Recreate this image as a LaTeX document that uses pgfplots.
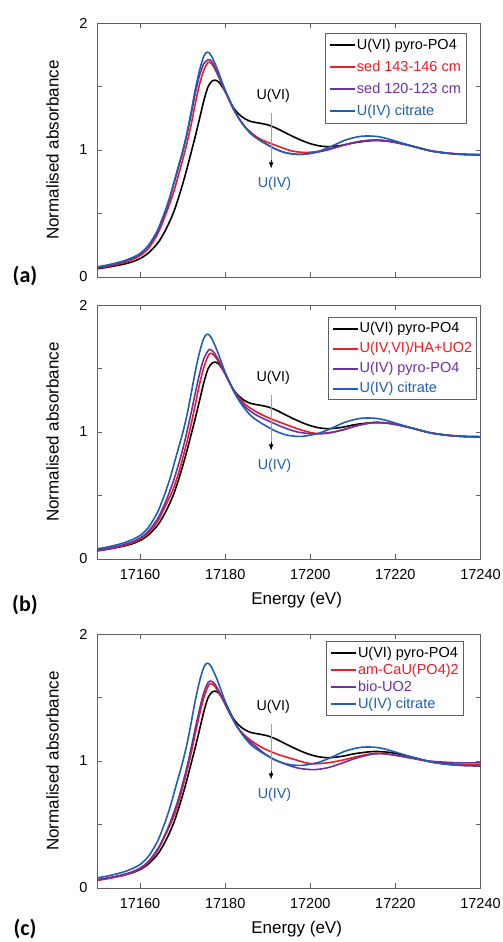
\documentclass[border=0pt]{standalone}
\usepackage{fontspec}
\setmainfont{Liberation Sans}
\newfontfamily\carlito{Carlito}
\usepackage{pgfplots}
\pgfplotsset{compat=1.18}
\usepackage{pgfplotstable}
\usetikzlibrary{arrows.meta}

\definecolor{cred}{RGB}{237,28,36}
\definecolor{cpurple}{RGB}{112,48,160}
\definecolor{cblue}{RGB}{31,94,180}
\definecolor{axgray}{RGB}{95,95,95}

% U(VI) pyro-PO4 (all panels)
\pgfplotstableread{
E A
17150 0.065
17152 0.075
17154 0.087
17156 0.100
17158 0.118
17160 0.145
17162 0.19
17164 0.26
17165 0.31
17166 0.37
17167 0.44
17168 0.52
17169 0.62
17170 0.73
17171 0.85
17172 0.98
17173 1.11
17174 1.25
17175 1.39
17176 1.50
17177 1.545
17177.6 1.55
17178.5 1.535
17180 1.46
17182 1.33
17184 1.26
17186 1.225
17188 1.212
17190 1.198
17192 1.172
17194 1.138
17196 1.105
17198 1.075
17200 1.05
17202 1.033
17204 1.026
17206 1.03
17208 1.04
17210 1.055
17212 1.065
17215 1.075
17218 1.07
17220 1.06
17224 1.03
17228 0.995
17232 0.975
17236 0.965
17240 0.962
}\blackdata

% U(IV) citrate (all panels)
\pgfplotstableread{
E A
17150 0.080
17152 0.092
17154 0.107
17156 0.125
17158 0.150
17160 0.185
17162 0.25
17164 0.36
17165 0.44
17166 0.53
17167 0.63
17168 0.75
17169 0.87
17170 0.99
17171 1.13
17172 1.30
17173 1.48
17174 1.63
17175 1.74
17175.8 1.77
17176.6 1.75
17178 1.65
17180 1.47
17182 1.32
17184 1.21
17186 1.13
17188 1.08
17190 1.04
17192 1.005
17194 0.98
17196 0.968
17198 0.965
17200 0.975
17202 0.99
17204 1.015
17206 1.045
17208 1.075
17210 1.095
17212 1.108
17214 1.11
17216 1.105
17218 1.09
17220 1.07
17224 1.03
17228 0.995
17232 0.975
17236 0.965
17240 0.962
}\bluedata

% (a) sed 143-146 cm
\pgfplotstableread{
E A
17150 0.070
17152 0.081
17154 0.095
17156 0.112
17158 0.135
17160 0.168
17162 0.225
17164 0.33
17165 0.405
17166 0.49
17167 0.58
17168 0.68
17169 0.80
17170 0.92
17171 1.05
17172 1.20
17173 1.37
17174 1.52
17175 1.63
17176 1.69
17176.8 1.68
17178 1.61
17180 1.46
17182 1.32
17184 1.21
17186 1.14
17188 1.09
17190 1.06
17192 1.035
17194 1.01
17196 0.99
17198 0.982
17200 0.982
17202 0.99
17204 1.005
17206 1.02
17208 1.04
17210 1.055
17212 1.068
17214 1.075
17216 1.078
17218 1.07
17220 1.06
17224 1.03
17228 0.995
17232 0.975
17236 0.965
17240 0.962
}\redA

% (a) sed 120-123 cm
\pgfplotstableread{
E A
17150 0.075
17152 0.087
17154 0.102
17156 0.120
17158 0.145
17160 0.180
17162 0.245
17164 0.35
17165 0.43
17166 0.52
17167 0.62
17168 0.74
17169 0.86
17170 0.98
17171 1.12
17172 1.28
17173 1.45
17174 1.59
17175 1.68
17176 1.71
17176.8 1.70
17178 1.62
17180 1.47
17182 1.32
17184 1.21
17186 1.13
17188 1.08
17190 1.04
17192 1.005
17194 0.98
17196 0.968
17198 0.965
17200 0.972
17202 0.985
17204 1.0
17206 1.02
17208 1.04
17210 1.057
17212 1.07
17214 1.077
17216 1.078
17218 1.072
17220 1.06
17224 1.03
17228 0.997
17232 0.977
17236 0.967
17240 0.963
}\purpleA

% (b) U(IV,VI)/HA+UO2
\pgfplotstableread{
E A
17150 0.065
17152 0.076
17154 0.089
17156 0.104
17158 0.125
17160 0.155
17162 0.205
17164 0.29
17165 0.35
17166 0.42
17167 0.49
17168 0.57
17169 0.67
17170 0.79
17171 0.92
17172 1.06
17173 1.22
17174 1.38
17175 1.51
17176 1.60
17176.6 1.62
17177.5 1.60
17179 1.52
17181 1.39
17183 1.28
17185 1.21
17187 1.165
17189 1.13
17191 1.10
17193 1.075
17195 1.05
17197 1.025
17199 1.005
17201 0.99
17203 0.99
17205 0.998
17208 1.02
17211 1.05
17214 1.07
17216 1.075
17218 1.07
17220 1.06
17224 1.03
17228 0.995
17232 0.975
17236 0.965
17240 0.962
}\redB

% (b) U(IV) pyro-PO4
\pgfplotstableread{
E A
17150 0.070
17152 0.081
17154 0.095
17156 0.111
17158 0.133
17160 0.165
17162 0.22
17164 0.31
17165 0.375
17166 0.45
17167 0.535
17168 0.63
17169 0.74
17170 0.86
17171 1.0
17172 1.15
17173 1.31
17174 1.46
17175 1.58
17176 1.64
17176.5 1.65
17177.5 1.62
17179 1.53
17181 1.39
17183 1.27
17185 1.19
17187 1.14
17189 1.105
17191 1.075
17193 1.045
17195 1.02
17197 1.0
17199 0.99
17201 0.985
17203 0.987
17205 0.995
17208 1.02
17211 1.05
17214 1.07
17216 1.075
17218 1.07
17220 1.06
17224 1.03
17228 0.995
17232 0.975
17236 0.965
17240 0.962
}\purpleB

% (c) am-CaU(PO4)2
\pgfplotstableread{
E A
17150 0.060
17152 0.071
17154 0.084
17156 0.099
17158 0.120
17160 0.150
17162 0.200
17164 0.29
17165 0.35
17166 0.42
17167 0.49
17168 0.57
17169 0.67
17170 0.79
17171 0.92
17172 1.06
17173 1.22
17174 1.37
17175 1.50
17176 1.59
17176.6 1.61
17177.5 1.59
17179 1.51
17181 1.38
17183 1.26
17185 1.19
17187 1.14
17189 1.10
17191 1.07
17193 1.045
17195 1.025
17197 1.005
17199 0.985
17201 0.978
17203 0.982
17205 0.99
17208 1.01
17211 1.035
17214 1.055
17216 1.06
17218 1.055
17220 1.045
17224 1.02
17228 0.995
17232 0.98
17236 0.972
17240 0.97
}\redC

% (c) bio-UO2
\pgfplotstableread{
E A
17150 0.065
17152 0.076
17154 0.089
17156 0.105
17158 0.126
17160 0.157
17162 0.21
17164 0.30
17165 0.36
17166 0.43
17167 0.51
17168 0.60
17169 0.70
17170 0.82
17171 0.95
17172 1.10
17173 1.26
17174 1.41
17175 1.54
17176 1.62
17176.5 1.63
17177.5 1.61
17179 1.52
17181 1.38
17183 1.26
17185 1.18
17187 1.12
17189 1.065
17191 1.02
17193 0.99
17195 0.965
17197 0.945
17199 0.935
17201 0.932
17203 0.94
17205 0.955
17208 0.99
17211 1.025
17214 1.05
17216 1.058
17218 1.055
17220 1.045
17224 1.025
17228 1.0
17232 0.99
17236 0.985
17240 0.985
}\purpleC

\pgfplotsset{
  legend image code/.code={\draw[#1, line width=1.7pt] (0pt,0pt) -- (25pt,0pt);},
  xanes/.style={
    scale only axis, width=383pt, height=254pt,
    xmin=17150, xmax=17240, ymin=0, ymax=2,
    xtick={17160,17180,17200,17220,17240},
    ytick={0,0.5,1,1.5,2}, yticklabels={0,{},1,{},2},
    scaled x ticks=false,
    tick align=inside, major tick length=5pt,
    axis line style={axgray, line width=0.8pt},
    every tick/.style={axgray, line width=0.8pt},
    /pgf/number format/1000 sep={},
    /pgf/number format/assume math mode=true,
    tick label style={font=\fontsize{14.5}{16}\selectfont},
    xticklabel style={anchor=center, yshift=-16pt},
    yticklabel style={anchor=center, xshift=-14pt},
    label style={font=\fontsize{17}{20}\selectfont},
    ylabel={Normalised absorbance},
    ylabel style={at={(axis description cs:-0.1175,0.5)}, anchor=center},
    xlabel style={at={(axis description cs:0.52,-0.1615)}, anchor=center},
    legend cell align=left,
    every axis plot/.append style={line width=1.6pt, smooth, tension=0.5},
  },
  leg/.style n args={4}{legend style={at={(rel axis cs:#1,#2)}, anchor=north east,
    draw=axgray, line width=0.8pt, inner sep=#3, row sep=#4,
    font=\fontsize{14.5}{16}\selectfont,
    nodes={inner sep=1pt, text height=11pt, text depth=3pt}}},
}

\newcommand\annot{%
  \draw[gray!75, line width=0.9pt] (axis cs:17190.8,1.29) -- (axis cs:17190.8,0.90);
  \draw[-{Latex[length=6pt,width=4.5pt]}, black, line width=0.5pt] (axis cs:17190.8,0.92) -- (axis cs:17190.8,0.855);
  \node[font=\fontsize{14.3}{16}\selectfont] at (axis cs:17191.3,1.43) {U(VI)};
  \node[font=\fontsize{14.3}{16}\selectfont, text=cblue] at (axis cs:17191.6,0.73) {U(IV)};
}

\begin{document}
\begin{tikzpicture}[x=1pt,y=1pt]
\useasboundingbox (0,0) rectangle (503,942);

% ---------- (a)
\begin{axis}[xanes, at={(97.5pt,665pt)}, anchor=south west,
  xticklabels={}, leg={0.963}{0.961}{4pt}{6pt}]
\addplot[black] table[x=E,y=A] {\blackdata};
\addlegendentry{U(VI) pyro-PO4}
\addplot[cred] table[x=E,y=A] {\redA};
\addlegendentry[text=cred]{sed 143-146 cm}
\addplot[cpurple] table[x=E,y=A] {\purpleA};
\addlegendentry[text=cpurple]{sed 120-123 cm}
\addplot[cblue] table[x=E,y=A] {\bluedata};
\addlegendentry[text=cblue]{U(IV) citrate}
\annot
\end{axis}

% ---------- (b)
\begin{axis}[xanes, at={(97.5pt,383pt)}, anchor=south west,
  xlabel={Energy (eV)}, leg={0.99}{0.951}{3pt}{4pt}]
\addplot[black] table[x=E,y=A] {\blackdata};
\addlegendentry{U(VI) pyro-PO4}
\addplot[cred] table[x=E,y=A] {\redB};
\addlegendentry[text=cred]{U(IV,VI)/HA+UO2}
\addplot[cpurple] table[x=E,y=A] {\purpleB};
\addlegendentry[text=cpurple]{U(IV) pyro-PO4}
\addplot[cblue] table[x=E,y=A] {\bluedata};
\addlegendentry[text=cblue]{U(IV) citrate}
\annot
\end{axis}

% ---------- (c)
\begin{axis}[xanes, at={(97.5pt,54pt)}, anchor=south west,
  xlabel={Energy (eV)}, leg={0.956}{0.972}{3.5pt}{1pt}]
\addplot[black] table[x=E,y=A] {\blackdata};
\addlegendentry{U(VI) pyro-PO4}
\addplot[cred] table[x=E,y=A] {\redC};
\addlegendentry[text=cred]{am-CaU(PO4)2}
\addplot[cpurple] table[x=E,y=A] {\purpleC};
\addlegendentry[text=cpurple]{bio-UO2}
\addplot[cblue] table[x=E,y=A] {\bluedata};
\addlegendentry[text=cblue]{U(IV) citrate}
\annot
\end{axis}

\node[font=\carlito\bfseries\fontsize{22}{24}\selectfont] at (25,666) {(a)};
\node[font=\carlito\bfseries\fontsize{22}{24}\selectfont] at (25,337) {(b)};
\node[font=\carlito\bfseries\fontsize{22}{24}\selectfont] at (25,13) {(c)};
\end{tikzpicture}
\end{document}
